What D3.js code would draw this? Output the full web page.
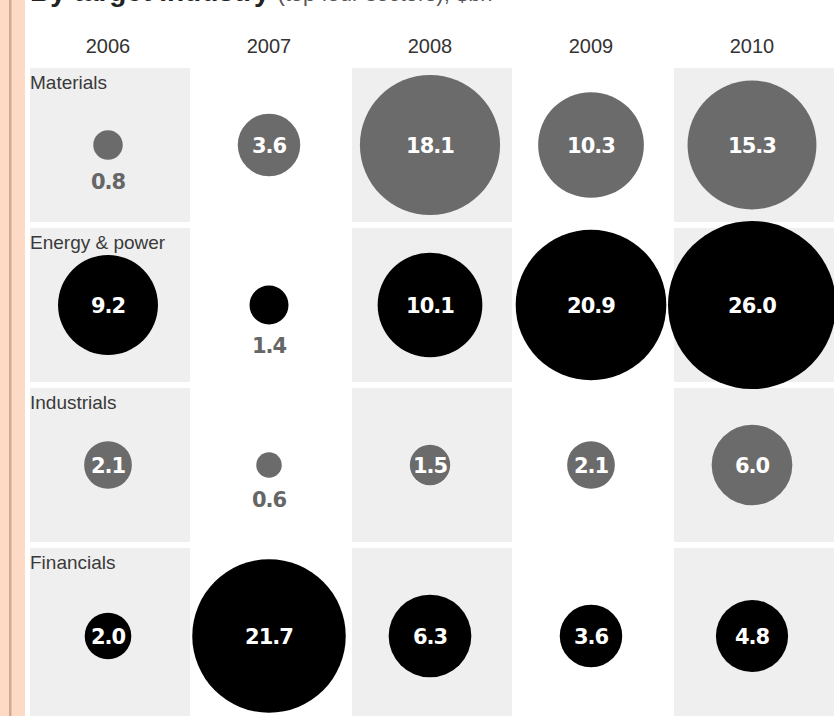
<!DOCTYPE html>
<html>
<head>
<meta charset="utf-8">
<script src="https://cdn.jsdelivr.net/npm/d3@7"></script>
<style>
  body { margin: 0; background: #fff; }
  svg { display: block; }
</style>
</head>
<body>
<script>
var WIDTH = 834;
var HEIGHT = 716;

// data, $bn by target industry
var years = ["2006", "2007", "2008", "2009", "2010"];
var sectors = ["Materials", "Energy & power", "Industrials", "Financials"];
var materials = [0.8, 3.6, 18.1, 10.3, 15.3];
var energy = [9.2, 1.4, 10.1, 20.9, 26.0];
var industrials = [2.1, 0.6, 1.5, 2.1, 6.0];
var financials = [2.0, 21.7, 6.3, 3.6, 4.8];
var sectorColors = ["#6b6b6b", "#000000", "#6b6b6b", "#000000"];

var values = [materials, energy, industrials, financials];

var cells = [];
for (let r = 0; r < sectors.length; r++) {
  for (let c = 0; c < years.length; c++) {
    cells.push({ row: r, col: c, value: values[r][c], color: sectorColors[r] });
  }
}

var svg = d3.select("body")
  .append("svg")
  .attr("width", WIDTH)
  .attr("height", HEIGHT);

// left decorative strip
svg.append("rect").attr("x", 0).attr("y", 0).attr("width", 25).attr("height", HEIGHT).attr("fill", "#fddac6");
svg.append("rect").attr("x", 9).attr("y", 0).attr("width", 2.5).attr("height", HEIGHT).attr("fill", "#d3a88f");

// column / row layout
var xScale = d3.scaleLinear().domain([0, years.length - 1]).range([108, 752]);
var rowTop = d3.scaleLinear().domain([0, sectors.length - 1]).range([68, 548]);
function rowHeight(r) { return r == sectors.length - 1 ? 176 : 154; }
function rowCenter(r) { return rowTop(r) + rowHeight(r) / 2; }

var rScale = d3.scaleSqrt().domain([0, 26]).range([0, 84]);

// shaded columns
var bg = svg.append("g");
for (let r = 0; r < sectors.length; r++) {
  years.forEach(function (y, c) {
    if (c % 2 == 0) {
      bg.append("rect")
        .attr("x", xScale(c) - 78)
        .attr("y", rowTop(r))
        .attr("width", 160)
        .attr("height", rowHeight(r))
        .attr("fill", "#efefef");
    }
  });
}

// title (cut off at top, as in the source)
var title = svg.append("text")
  .attr("x", 30)
  .attr("y", 1)
  .attr("fill", "#222")
  .style("font-family", "Liberation Sans, Arial, sans-serif");
title.append("tspan").attr("font-weight", "bold").attr("font-size", 28).text("By target industry ");
title.append("tspan").attr("font-size", 22).attr("fill", "#555").text("(top four sectors), $bn");

// year headers
svg.selectAll(".year")
  .data(years)
  .enter()
  .append("text")
  .attr("class", "year")
  .attr("x", function (d, i) { return xScale(i); })
  .attr("y", 46)
  .attr("text-anchor", "middle")
  .attr("dominant-baseline", "central")
  .attr("fill", "#333")
  .style("font-family", "Liberation Sans, Arial, sans-serif")
  .style("font-size", "20px")
  .text(function (d) { return d; });

// row labels
svg.selectAll(".sector")
  .data(sectors)
  .enter()
  .append("text")
  .attr("class", "sector")
  .attr("x", 30)
  .attr("y", function (d, i) { return rowTop(i) + 21; })
  .attr("fill", "#3a3a3a")
  .style("font-family", "Liberation Sans, Arial, sans-serif")
  .style("font-size", "19px")
  .text(function (d) { return d; });

// bubbles
var bubbles = svg.selectAll(".bubble")
  .data(cells)
  .enter()
  .append("g")
  .attr("class", "bubble")
  .attr("transform", function (d) {
    return "translate(" + xScale(d.col) + "," + rowCenter(d.row) + ")";
  });

bubbles.append("circle")
  .attr("r", function (d) { return rScale(d.value); })
  .attr("fill", function (d) { return d.color; });

bubbles.append("text")
  .attr("text-anchor", "middle")
  .attr("dominant-baseline", "central")
  .attr("y", function (d) {
    return d.value < 1.5 ? rScale(d.value) + 22 : 1;
  })
  .attr("fill", function (d) { return d.value < 1.5 ? "#666" : "#fff"; })
  .style("font-family", "DejaVu Sans, sans-serif")
  .style("font-weight", "bold")
  .style("font-size", "21px")
  .style("letter-spacing", "-1px")
  .text(function (d) { return d.value.toFixed(1); });
</script>
</body>
</html>
